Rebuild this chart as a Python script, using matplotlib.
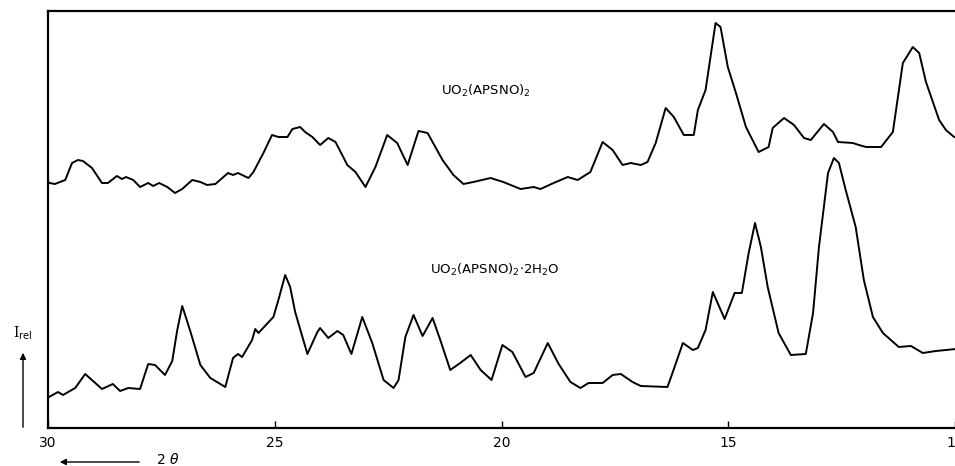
import matplotlib
matplotlib.use("Agg")
import matplotlib.pyplot as plt

# ---------------- DATA ----------------
# 2 theta [deg] and relative intensity (arbitrary units, 0 = bottom of frame)
twotheta_anhydrous = [30.00, 29.96, 29.85, 29.62, 29.47, 29.34, 29.23, 29.03, 28.81, 28.68,
                      28.48, 28.37, 28.28, 28.12, 27.97, 27.79, 27.68, 27.55, 27.37, 27.20,
                      27.04, 26.82, 26.64, 26.49, 26.31, 26.03, 25.92, 25.81, 25.58, 25.47,
                      25.25, 25.06, 24.92, 24.72, 24.61, 24.44, 24.33, 24.17, 24.00, 23.82,
                      23.66, 23.40, 23.22, 23.00, 22.78, 22.52, 22.30, 22.07, 21.83, 21.63,
                      21.30, 21.06, 20.84, 20.62, 20.24, 19.96, 19.58, 19.29, 19.14, 18.85,
                      18.54, 18.32, 18.04, 17.77, 17.55, 17.33, 17.15, 16.93, 16.78, 16.60,
                      16.38, 16.20, 15.98, 15.76, 15.67, 15.50, 15.28, 15.17, 15.01, 14.83,
                      14.61, 14.33, 14.11, 14.02, 13.77, 13.55, 13.33, 13.18, 12.89, 12.69,
                      12.58, 12.25, 12.12, 11.96, 11.63, 11.37, 11.15, 10.93, 10.79, 10.64,
                      10.35, 10.20, 10.02]
intensity_anhydrous = [246, 245, 244, 248, 265, 268, 267, 260, 245, 245,
                       252, 249, 251, 248, 241, 245, 242, 245, 241, 235,
                       239, 248, 246, 243, 244, 255, 253, 255, 250, 256,
                       275, 293, 291, 291, 299, 301, 296, 291, 283, 290,
                       286, 263, 256, 241, 261, 293, 285, 263, 297, 295,
                       268, 253, 244, 246, 250, 246, 239, 241, 239, 245,
                       251, 248, 256, 286, 278, 263, 265, 263, 266, 285,
                       320, 311, 293, 293, 318, 338, 405, 401, 361, 335,
                       301, 276, 281, 300, 310, 303, 290, 288, 304, 296,
                       286, 285, 283, 281, 281, 296, 365, 381, 375, 346,
                       308, 298, 291]

twotheta_hydrate = [29.98, 29.78, 29.67, 29.40, 29.18, 28.81, 28.57, 28.41, 28.23, 27.97,
                    27.79, 27.64, 27.42, 27.26, 27.15, 27.04, 26.87, 26.64, 26.42, 26.09,
                    25.92, 25.81, 25.72, 25.50, 25.43, 25.36, 25.03, 24.92, 24.77, 24.66,
                    24.55, 24.28, 24.06, 24.00, 23.82, 23.62, 23.49, 23.31, 23.07, 22.85,
                    22.60, 22.38, 22.27, 22.12, 21.94, 21.74, 21.52, 21.35, 21.13, 20.91,
                    20.68, 20.46, 20.22, 19.98, 19.76, 19.47, 19.29, 18.98, 18.74, 18.48,
                    18.26, 18.08, 17.77, 17.55, 17.37, 17.11, 16.93, 16.34, 16.23, 16.00,
                    15.78, 15.67, 15.50, 15.34, 15.08, 14.86, 14.70, 14.55, 14.41, 14.28,
                    14.13, 13.89, 13.62, 13.29, 13.13, 13.00, 12.80, 12.67, 12.56, 12.41,
                    12.19, 12.01, 11.81, 11.59, 11.24, 10.97, 10.71, 10.42, 9.98]
intensity_hydrate = [31, 36, 33, 40, 54, 39, 44, 37, 40, 39,
                     64, 63, 53, 67, 98, 122, 98, 63, 50, 41,
                     70, 74, 71, 88, 99, 95, 111, 128, 153, 141,
                     116, 74, 96, 100, 90, 97, 93, 74, 111, 85,
                     48, 40, 48, 91, 113, 92, 110, 88, 58, 65,
                     73, 58, 48, 83, 76, 51, 55, 85, 64, 46,
                     40, 45, 45, 53, 54, 46, 42, 41, 55, 85,
                     78, 80, 98, 136, 109, 135, 135, 175, 205, 181,
                     141, 95, 73, 74, 115, 181, 255, 270, 265, 238,
                     201, 148, 111, 95, 81, 82, 75, 77, 79]

xticks = [30, 25, 20, 15, 10]
label_top = r"UO$_2$(APSNO)$_2$"
label_bottom = r"UO$_2$(APSNO)$_2$$\cdot$2H$_2$O"

# ---------------- FIGURE ----------------
W, H = 955, 466
fig = plt.figure(figsize=(W / 100, H / 100), dpi=100)
ax = fig.add_axes([48 / W, 38 / H, 907 / W, 417 / H])

ax.plot(twotheta_anhydrous, intensity_anhydrous, color="black", linewidth=1.4)
ax.plot(twotheta_hydrate, intensity_hydrate, color="black", linewidth=1.4)

ax.set_xlim(30, 10)
ax.set_ylim(0, 417)

ax.set_xticks(xticks)
ax.set_xticklabels([str(t) for t in xticks], fontsize=10)
ax.tick_params(axis="x", direction="in", length=5, width=1, pad=6)
ax.set_yticks([])

for side in ["left", "top", "bottom"]:
    ax.spines[side].set_linewidth(1.6)
ax.spines["right"].set_visible(False)

# compound labels
ax.text(20.35, 337, label_top, fontsize=9.5, ha="center", va="center")
ax.text(20.15, 158, label_bottom, fontsize=9.5, ha="center", va="center")

# intensity arrow + label
fig.text(23 / W, 1 - 333 / H, r"I$_{\rm rel}$", fontsize=10, ha="center", va="center",
         family="DejaVu Serif")
fig.patches.append(matplotlib.patches.FancyArrowPatch(
    (23 / W, 1 - 430 / H), (23 / W, 1 - 350 / H), transform=fig.transFigure,
    arrowstyle="-|>", mutation_scale=9, color="black", linewidth=1.0))

# 2 theta arrow + label
fig.patches.append(matplotlib.patches.FancyArrowPatch(
    (142 / W, 1 - 462 / H), (57 / W, 1 - 462 / H), transform=fig.transFigure,
    arrowstyle="-|>", mutation_scale=9, color="black", linewidth=1.0))
fig.text(168 / W, 1 - 460 / H, r"2 $\theta$", fontsize=10, ha="center", va="center")

fig.savefig("out.png", dpi=100)
